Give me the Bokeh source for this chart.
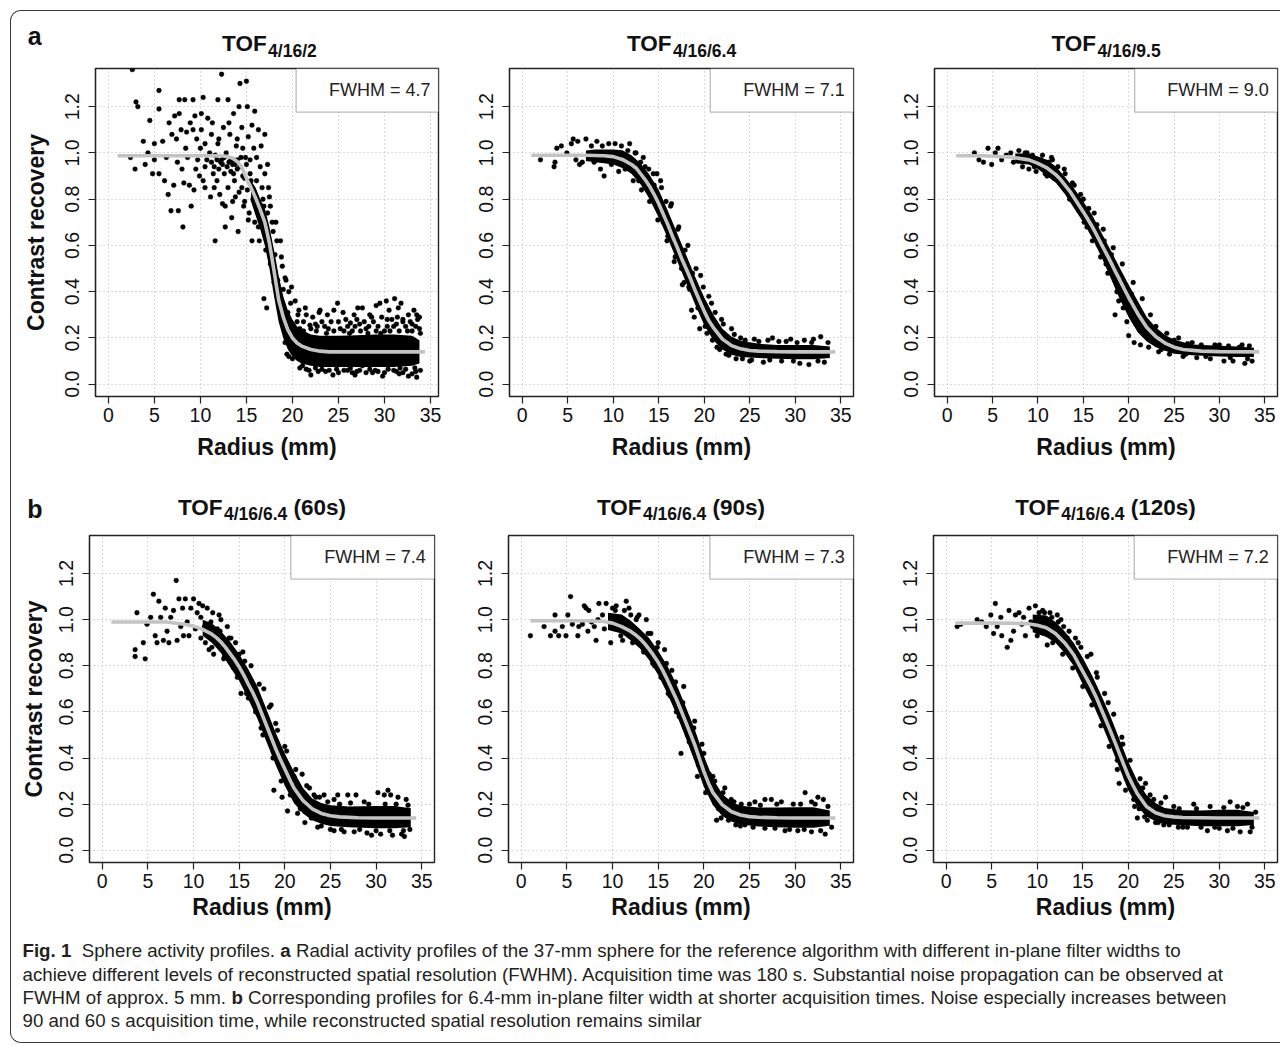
from bokeh.plotting import figure
from bokeh.models import Range1d, FixedTicker, NumeralTickFormatter, Label, BoxAnnotation
from bokeh.layouts import row, column
from bokeh.embed import file_html
from bokeh.resources import INLINE
from bokeh.core.properties import value

FONT = "Liberation Sans"

# ---------------- data ----------------
X_TICKS = [0, 5, 10, 15, 20, 25, 30, 35]
Y_TICKS = [0.0, 0.2, 0.4, 0.6, 0.8, 1.0, 1.2]
X_LO, X_HI = -1.4, 36.4
Y_LO, Y_HI = -0.053, 1.365

CURVE_X = [1, 4, 7, 9, 10, 11, 12, 12.5, 13, 13.5, 14, 14.5, 15, 15.5, 16, 16.5, 17, 17.5,
           18, 18.5, 19, 19.5, 20, 20.5, 21, 22, 23, 24, 25, 26, 28, 30, 34.4]

CURVE_TOF2 = [0.988, 0.988, 0.988, 0.988, 0.988, 0.988, 0.988, 0.987, 0.984, 0.977, 0.963, 0.937,
              0.89, 0.85, 0.805, 0.755, 0.70, 0.61, 0.49, 0.365, 0.29, 0.235, 0.20, 0.178, 0.165,
              0.15, 0.143, 0.14, 0.14, 0.14, 0.14, 0.14, 0.14]
CURVE_TOF64 = [0.99, 0.99, 0.99, 0.988, 0.984, 0.972, 0.95, 0.935, 0.91, 0.885, 0.855, 0.82,
               0.78, 0.735, 0.69, 0.64, 0.595, 0.545, 0.50, 0.455, 0.405, 0.36, 0.315, 0.275, 0.245,
               0.195, 0.167, 0.153, 0.146, 0.143, 0.141, 0.14, 0.14]
CURVE_TOF95 = [0.988, 0.988, 0.982, 0.97, 0.955, 0.935, 0.905, 0.885, 0.86, 0.835, 0.805, 0.775,
               0.745, 0.713, 0.68, 0.643, 0.605, 0.568, 0.53, 0.49, 0.452, 0.413, 0.375, 0.34, 0.305,
               0.245, 0.205, 0.178, 0.16, 0.15, 0.143, 0.141, 0.14]
CURVE_60S = [0.99, 0.99, 0.99, 0.98, 0.972, 0.958, 0.937, 0.922, 0.903, 0.88, 0.853, 0.826,
             0.795, 0.76, 0.72, 0.683, 0.64, 0.59, 0.54, 0.49, 0.44, 0.395, 0.352, 0.31, 0.27,
             0.215, 0.18, 0.16, 0.15, 0.145, 0.141, 0.14, 0.14]
CURVE_90S = [0.995, 0.995, 0.995, 0.992, 0.985, 0.97, 0.949, 0.935, 0.918, 0.897, 0.872, 0.845,
             0.815, 0.78, 0.74, 0.697, 0.655, 0.607, 0.558, 0.508, 0.458, 0.40, 0.342, 0.292, 0.25,
             0.198, 0.168, 0.153, 0.146, 0.143, 0.141, 0.14, 0.14]
CURVE_120S = [0.985, 0.985, 0.985, 0.982, 0.976, 0.965, 0.94, 0.92, 0.90, 0.875, 0.848, 0.812,
              0.776, 0.74, 0.703, 0.662, 0.615, 0.568, 0.521, 0.472, 0.422, 0.372, 0.323, 0.283, 0.245,
              0.19, 0.163, 0.15, 0.145, 0.142, 0.141, 0.14, 0.14]

# dense core of each point cloud (lower / upper envelope)
BAND_TOF2_X = [15.5, 16, 16.5, 17, 17.5, 18, 18.5, 19, 19.5, 20, 20.5, 21, 22, 23, 25, 27, 29, 31, 33, 33.8]
BAND_TOF2_LO = [0.79, 0.73, 0.67, 0.60, 0.50, 0.38, 0.27, 0.20, 0.15, 0.12, 0.10, 0.09, 0.08, 0.075, 0.075, 0.075, 0.075, 0.075, 0.08, 0.09]
BAND_TOF2_HI = [0.88, 0.85, 0.80, 0.76, 0.68, 0.58, 0.47, 0.38, 0.32, 0.28, 0.25, 0.235, 0.215, 0.21, 0.21, 0.212, 0.215, 0.215, 0.21, 0.19]

BAND_TOF64_X = [7, 8, 9, 10, 11, 12, 13, 14, 15, 16, 17, 18, 19, 20, 21, 22, 23, 24, 26, 28, 30, 32, 33.8]
BAND_TOF64_LO = [0.965, 0.96, 0.955, 0.95, 0.935, 0.91, 0.865, 0.80, 0.72, 0.63, 0.535, 0.44, 0.345, 0.255, 0.19, 0.15, 0.128, 0.118, 0.113, 0.11, 0.108, 0.108, 0.113]
BAND_TOF64_HI = [1.01, 1.015, 1.015, 1.015, 1.012, 0.99, 0.955, 0.905, 0.84, 0.75, 0.655, 0.56, 0.465, 0.375, 0.30, 0.24, 0.205, 0.188, 0.175, 0.17, 0.17, 0.17, 0.163]

BAND_TOF95_X = [7.5, 9, 10, 11, 12, 13, 14, 15, 16, 17, 18, 19, 20, 21, 22, 23, 24, 25, 27, 30, 32, 33.8]
BAND_TOF95_LO = [0.955, 0.95, 0.93, 0.90, 0.87, 0.82, 0.76, 0.70, 0.63, 0.55, 0.46, 0.37, 0.29, 0.225, 0.185, 0.16, 0.145, 0.132, 0.125, 0.12, 0.118, 0.118]
BAND_TOF95_HI = [0.998, 0.998, 0.985, 0.97, 0.94, 0.895, 0.845, 0.79, 0.73, 0.655, 0.58, 0.505, 0.43, 0.36, 0.29, 0.245, 0.213, 0.192, 0.172, 0.166, 0.163, 0.158]

BAND_60S_X = [11, 12, 13, 14, 15, 16, 17, 18, 19, 20, 21, 22, 23, 24, 25, 27, 30, 32, 33.8]
BAND_60S_LO = [0.93, 0.90, 0.855, 0.795, 0.735, 0.655, 0.57, 0.47, 0.37, 0.28, 0.205, 0.16, 0.13, 0.115, 0.105, 0.10, 0.096, 0.096, 0.10]
BAND_60S_HI = [1.0, 0.985, 0.95, 0.905, 0.85, 0.785, 0.71, 0.61, 0.51, 0.42, 0.34, 0.27, 0.225, 0.205, 0.195, 0.19, 0.192, 0.192, 0.182]

BAND_90S_X = [9.5, 11, 12, 13, 14, 15, 16, 17, 18, 19, 20, 21, 22, 23, 24, 26, 28, 30, 32, 33.8]
BAND_90S_LO = [0.955, 0.94, 0.91, 0.875, 0.825, 0.76, 0.68, 0.59, 0.49, 0.385, 0.275, 0.195, 0.15, 0.125, 0.112, 0.103, 0.1, 0.098, 0.098, 0.106]
BAND_90S_HI = [1.03, 1.022, 0.995, 0.96, 0.92, 0.865, 0.80, 0.72, 0.625, 0.525, 0.41, 0.31, 0.245, 0.21, 0.193, 0.185, 0.185, 0.187, 0.187, 0.172]

BAND_120S_X = [9.5, 11, 12, 13, 14, 15, 16, 17, 18, 19, 20, 21, 22, 23, 24, 26, 28, 30, 32, 33.8]
BAND_120S_LO = [0.945, 0.925, 0.90, 0.855, 0.80, 0.72, 0.645, 0.555, 0.46, 0.36, 0.26, 0.19, 0.147, 0.126, 0.113, 0.108, 0.104, 0.104, 0.104, 0.11]
BAND_120S_HI = [1.022, 1.018, 0.99, 0.95, 0.90, 0.835, 0.76, 0.675, 0.585, 0.485, 0.385, 0.30, 0.24, 0.205, 0.183, 0.174, 0.172, 0.176, 0.176, 0.166]

# individual (sparse / edge) points: (radius, contrast recovery)
PTS_TOF2 = [(2.6, 1.36), (3.0, 1.22), (3.2, 1.20), (2.4, 0.98), (2.9, 0.93), (4.5, 1.14), (5.5, 1.27), (5.5, 1.19),
    (4.3, 1.00), (4.8, 0.91), (5.0, 1.04), (5.0, 0.97), (5.5, 0.91), (5.9, 1.05), (6.1, 0.88), (6.5, 0.82),
    (6.6, 1.13), (6.8, 0.75), (7.2, 1.16), (7.4, 1.06), (7.6, 0.75), (7.7, 1.23), (7.7, 1.17), (7.9, 1.10),
    (8.0, 0.93), (8.1, 0.68), (8.3, 1.23), (8.2, 0.87), (8.5, 1.09), (8.6, 0.98), (8.8, 0.86), (9.0, 0.77),
    (9.2, 1.23), (9.2, 1.10), (9.4, 1.16), (9.6, 1.06), (9.7, 0.97), (9.9, 0.90), (10.1, 1.17), (10.1, 1.10),
    (10.3, 1.24), (10.5, 1.04), (10.5, 0.85), (10.5, 0.94), (10.8, 1.15), (11.0, 1.00), (11.1, 0.81), (11.2, 1.08),
    (11.4, 0.91), (11.6, 0.62), (11.6, 0.99), (11.8, 0.88), (11.9, 1.23), (11.9, 1.04), (12.1, 0.82), (12.3, 1.34),
    (12.3, 0.97), (12.5, 1.11), (12.6, 0.91), (12.7, 0.68), (12.7, 0.77), (12.8, 1.00), (13.0, 1.23), (13.0, 0.85),
    (13.2, 1.08), (13.3, 0.97), (13.4, 0.72), (13.6, 1.17), (13.6, 0.91), (13.8, 0.81), (13.9, 1.03), (14.1, 0.66),
    (14.2, 1.20), (14.3, 1.30), (14.3, 0.94), (14.5, 1.11), (14.5, 0.85), (14.7, 0.77), (14.9, 0.98), (15.0, 1.31),
    (15.1, 1.20), (15.2, 1.07), (15.2, 0.71), (15.4, 0.91), (15.6, 0.62), (15.8, 1.02), (15.9, 1.18), (16.0, 0.81),
    (16.3, 1.10), (16.3, 0.68), (16.5, 0.94), (16.7, 0.85), (16.9, 0.77), (17.0, 1.08), (17.0, 0.91), (17.2, 0.66),
    (17.4, 0.85), (17.6, 0.77), (17.9, 0.66), (18.1, 0.56), (18.9, 0.51), (19.2, 0.46), (19.6, 0.40), (16.9, 0.37),
    (17.2, 0.33), (20.3, 0.36), (20.7, 0.32), (21.2, 0.27), (19.6, 0.12), (20.0, 0.11), (22.2, 0.29), (22.9, 0.31),
    (23.8, 0.30), (24.5, 0.32), (24.9, 0.35), (25.8, 0.28), (26.7, 0.30), (27.1, 0.33), (27.6, 0.33), (27.8, 0.27),
    (28.4, 0.30), (29.1, 0.34), (29.5, 0.35), (30.2, 0.36), (30.5, 0.32), (31.1, 0.37), (31.5, 0.33), (31.8, 0.35),
    (32.0, 0.28), (32.6, 0.30), (33.5, 0.30), (33.6, 0.28), (33.5, 0.03), (33.3, 0.07), (28.7, 0.05), (26.5, 0.05),
    (23.2, 0.065), (21.1, 0.08), (11.2, 0.96), (11.5, 0.94), (11.8, 0.97), (12.0, 0.93), (12.2, 0.96), (12.4, 0.95),
    (12.6, 0.98), (12.9, 0.94), (13.1, 0.96), (13.3, 0.92), (13.6, 0.97), (13.8, 0.95), (14.0, 0.97), (13.5, 0.95),
    (13.7, 0.88), (14.0, 0.93), (14.2, 0.83), (14.4, 0.98), (14.6, 0.90), (14.8, 0.79), (15.0, 0.95), (15.1, 0.84),
    (15.3, 0.74), (15.5, 0.88), (15.7, 0.80), (15.9, 0.70), (16.1, 0.88), (16.2, 0.76), (16.4, 0.62), (16.6, 0.72),
    (16.8, 0.80), (17.1, 0.58), (17.3, 0.74), (17.6, 0.52), (17.8, 0.70), (18.0, 0.44), (18.3, 0.62), (18.6, 0.36),
    (18.8, 0.55), (19.0, 0.28), (19.3, 0.45), (19.6, 0.22), (19.8, 0.35), (20.2, 0.17), (20.6, 0.30), (21.0, 0.12),
    (21.5, 0.30), (22.5, 0.26), (23.5, 0.25), (24.2, 0.27), (25.2, 0.24), (26.0, 0.25), (26.5, 0.23), (27.3, 0.26),
    (28.0, 0.24), (28.8, 0.27), (29.3, 0.25), (30.0, 0.23), (30.8, 0.28), (31.3, 0.26), (32.3, 0.25), (33.0, 0.26),
    (33.8, 0.24), (21.8, 0.06), (22.8, 0.055), (24.0, 0.06), (25.0, 0.05), (26.0, 0.06), (27.0, 0.055), (28.0, 0.05),
    (29.0, 0.06), (30.0, 0.05), (31.0, 0.06), (32.0, 0.05), (33.0, 0.045), (33.9, 0.06), (19.4, 0.13),
    (3.8, 1.05), (4.0, 0.95), (6.3, 0.98), (6.9, 1.08), (7.1, 0.86), (7.5, 0.96), (8.4, 1.02), (8.9, 1.13),
    (9.3, 0.84), (9.5, 0.93), (10.0, 1.02), (10.3, 0.88), (10.7, 0.97), (11.3, 1.13), (11.5, 0.85), (12.0, 1.06),
    (12.4, 0.78), (13.1, 1.13), (13.5, 0.79), (14.0, 1.06), (14.6, 1.02), (14.8, 0.89), (15.4, 0.97), (15.6, 1.12),
    (16.1, 0.98), (16.6, 1.03), (17.3, 0.95), (17.5, 0.81), (18.2, 0.70), (18.4, 0.45), (18.7, 0.62), (19.0, 0.41),
    (19.2, 0.18), (19.5, 0.31), (19.9, 0.42), (20.4, 0.14), (20.8, 0.24), (21.4, 0.33), (21.9, 0.255), (22.3, 0.095),
    (22.7, 0.25), (23.0, 0.32), (23.9, 0.24), (24.6, 0.085), (25.5, 0.31), (26.3, 0.265), (27.0, 0.28), (27.6, 0.08),
    (28.3, 0.25), (29.7, 0.29), (30.3, 0.25), (31.4, 0.29), (31.7, 0.07), (32.8, 0.27), (33.2, 0.32), (33.8, 0.29),
    (22.0, 0.04), (24.4, 0.04), (26.8, 0.04), (29.8, 0.035), (31.6, 0.045), (32.6, 0.035),
    (20.5, 0.27), (21.2, 0.23), (22.0, 0.24), (22.6, 0.23), (23.2, 0.27), (23.7, 0.22), (24.5, 0.23), (25.0, 0.27),
    (25.6, 0.23), (26.2, 0.22), (26.8, 0.25), (27.4, 0.23), (28.2, 0.22), (28.6, 0.29), (29.1, 0.23), (29.6, 0.22),
    (30.3, 0.28), (30.6, 0.23), (31.0, 0.25), (31.6, 0.23), (32.0, 0.27), (32.5, 0.23), (33.0, 0.23), (33.4, 0.25),
    (33.9, 0.22), (20.8, 0.07), (21.5, 0.065), (22.5, 0.07), (23.6, 0.055), (24.8, 0.065), (25.6, 0.06), (26.3, 0.07),
    (27.3, 0.06), (28.4, 0.065), (29.3, 0.055), (30.4, 0.065), (31.3, 0.055), (32.3, 0.065), (33.4, 0.055)]

PTS_TOF64 = [(2.0, 0.97), (3.5, 0.94), (3.6, 0.96), (3.8, 1.02), (4.3, 1.03), (4.9, 1.00), (5.4, 1.04), (5.6, 1.06),
    (5.9, 0.97), (6.1, 1.05), (6.3, 0.95), (6.6, 0.96), (7.0, 1.06), (7.3, 0.99), (7.6, 1.03), (7.9, 0.96),
    (8.2, 1.05), (8.4, 0.98), (8.6, 0.93), (8.8, 1.03), (9.0, 0.90), (9.2, 0.97), (9.5, 1.04), (9.8, 0.95),
    (10.2, 1.04), (10.4, 0.97), (10.6, 0.92), (10.9, 1.03), (11.1, 0.96), (11.3, 0.93), (11.6, 1.01), (11.8, 1.04),
    (12.0, 0.95), (12.2, 0.88), (12.4, 1.00), (12.8, 0.88), (13.0, 0.96), (13.3, 0.98), (13.6, 0.86), (13.9, 0.93),
    (14.2, 0.82), (14.5, 0.86), (14.8, 0.91), (15.2, 0.88), (15.5, 0.70), (15.8, 0.79), (16.0, 0.64), (16.4, 0.78),
    (16.6, 0.61), (16.8, 0.55), (17.2, 0.68), (17.5, 0.50), (17.8, 0.44), (18.2, 0.60), (18.4, 0.41), (18.6, 0.32),
    (18.9, 0.29), (19.1, 0.50), (19.5, 0.24), (19.9, 0.42), (20.3, 0.22), (20.8, 0.35), (21.4, 0.16), (21.9, 0.28),
    (22.4, 0.13), (23.0, 0.24), (23.5, 0.11), (24.0, 0.20), (24.5, 0.19), (25.0, 0.10), (25.5, 0.195), (26.5, 0.095),
    (27.0, 0.19), (27.5, 0.20), (28.5, 0.10), (29.0, 0.185), (29.5, 0.195), (30.5, 0.09), (31.0, 0.19), (31.5, 0.085),
    (32.0, 0.195), (32.8, 0.205), (33.2, 0.095), (33.6, 0.18),
    (12.5, 1.0), (13.1, 0.84), (13.5, 0.94), (14.0, 0.79), (14.4, 0.91), (14.9, 0.71), (15.3, 0.85), (15.9, 0.62),
    (16.3, 0.77), (16.7, 0.53), (17.1, 0.67), (17.6, 0.43), (17.9, 0.58), (18.3, 0.42), (18.7, 0.48), (19.3, 0.33),
    (19.6, 0.47), (20.1, 0.25), (20.5, 0.38), (20.9, 0.19), (21.2, 0.31), (21.7, 0.15), (22.1, 0.26), (22.7, 0.125),
    (23.3, 0.215), (24.2, 0.11), (25.2, 0.105), (26.0, 0.185), (27.2, 0.105), (28.2, 0.185), (29.8, 0.10), (30.2, 0.18),
    (31.8, 0.18), (32.5, 0.10), (33.4, 0.13)]

PTS_TOF95 = [(3.0, 1.00), (3.5, 0.97), (4.0, 0.96), (4.5, 1.02), (4.9, 0.95), (5.3, 1.00), (5.6, 1.02), (6.0, 0.97),
    (6.5, 0.99), (7.0, 1.00), (7.3, 0.96), (7.9, 1.01), (8.3, 0.94), (8.6, 1.00), (9.0, 0.93), (9.4, 0.99),
    (9.8, 0.92), (10.3, 0.97), (10.8, 0.91), (11.2, 0.96), (11.5, 0.98), (11.8, 0.89), (12.2, 0.94), (12.6, 0.86),
    (13.0, 0.91), (13.4, 0.82), (13.8, 0.87), (14.3, 0.77), (14.7, 0.82), (15.1, 0.70), (15.6, 0.76), (16.0, 0.62),
    (16.5, 0.69), (16.9, 0.55), (17.3, 0.62), (17.7, 0.48), (18.1, 0.56), (18.5, 0.30), (18.7, 0.40), (19.0, 0.47),
    (19.4, 0.33), (19.8, 0.27), (20.0, 0.21), (20.3, 0.39), (20.6, 0.18), (21.0, 0.30), (21.3, 0.17), (21.8, 0.25),
    (22.2, 0.16), (22.7, 0.22), (23.3, 0.14), (23.8, 0.20), (24.5, 0.13), (25.0, 0.19), (26.0, 0.12), (26.5, 0.175),
    (27.5, 0.115), (28.0, 0.17), (29.0, 0.11), (29.5, 0.17), (30.5, 0.10), (31.0, 0.165), (31.5, 0.10), (32.2, 0.16),
    (32.8, 0.09), (33.3, 0.165), (33.6, 0.10),
    (8.0, 0.97), (8.8, 1.0), (9.6, 0.94), (10.5, 0.99), (11.0, 0.90), (11.6, 0.97), (12.4, 0.87), (12.9, 0.93),
    (13.5, 0.80), (14.0, 0.86), (14.5, 0.75), (15.0, 0.80), (15.4, 0.68), (16.2, 0.74), (16.7, 0.60), (17.2, 0.67),
    (17.5, 0.52), (18.3, 0.59), (18.9, 0.36), (19.3, 0.52), (19.6, 0.42), (20.5, 0.44), (20.8, 0.26), (21.5, 0.37),
    (21.6, 0.22), (22.4, 0.30), (23.0, 0.25), (23.6, 0.15), (24.2, 0.22), (25.5, 0.20), (26.3, 0.13), (27.0, 0.18),
    (28.5, 0.12), (30.0, 0.17), (31.2, 0.115), (32.5, 0.17), (33.1, 0.11)]

PTS_60S = [(3.6, 0.87), (3.6, 0.84), (3.8, 1.03), (4.5, 0.90), (4.7, 0.83), (4.9, 0.98), (5.3, 1.01), (5.6, 1.11),
    (5.8, 0.93), (6.0, 0.90), (6.2, 1.08), (6.4, 1.01), (6.7, 0.91), (6.9, 1.05), (7.1, 0.95), (7.3, 0.90),
    (7.5, 1.01), (7.8, 1.04), (8.1, 1.17), (8.2, 0.91), (8.4, 1.09), (8.6, 0.97), (8.8, 1.05), (8.9, 0.93),
    (9.1, 1.09), (9.3, 0.99), (9.5, 0.93), (9.7, 1.05), (10.0, 1.09), (10.2, 0.96), (10.4, 1.03), (10.6, 1.07),
    (10.8, 1.01), (10.8, 0.92), (11.0, 1.06), (11.3, 0.90), (11.5, 1.05), (11.7, 0.87), (11.9, 0.99), (12.1, 1.03),
    (12.2, 0.85), (12.4, 0.93), (12.6, 0.96), (12.8, 1.02), (13.0, 1.00), (13.3, 0.83), (13.5, 0.88), (13.7, 0.97),
    (13.9, 0.92), (14.4, 0.79), (14.6, 0.90), (15.0, 0.85), (15.2, 0.68), (15.6, 0.82), (16.0, 0.66), (16.6, 0.69),
    (17.0, 0.62), (17.4, 0.53), (17.7, 0.70), (18.1, 0.49), (18.5, 0.63), (18.8, 0.26), (19.0, 0.55), (19.4, 0.39),
    (19.7, 0.23), (20.0, 0.45), (20.3, 0.17), (20.7, 0.34), (21.0, 0.32), (21.4, 0.16), (21.9, 0.33), (22.2, 0.12),
    (22.7, 0.27), (23.2, 0.24), (23.6, 0.10), (23.8, 0.23), (24.3, 0.24), (25.0, 0.09), (25.4, 0.22), (25.4, 0.085),
    (25.8, 0.24), (26.5, 0.08), (26.9, 0.24), (27.6, 0.08), (27.8, 0.24), (28.7, 0.21), (29.0, 0.075), (29.5, 0.065),
    (30.2, 0.25), (30.5, 0.07), (30.9, 0.24), (31.3, 0.26), (31.6, 0.24), (31.8, 0.065), (32.4, 0.23), (32.8, 0.07),
    (33.1, 0.06), (33.3, 0.22), (33.7, 0.09),
    (11.2, 0.97), (12.0, 0.88), (12.9, 0.95), (13.4, 0.84), (14.1, 0.92), (14.8, 0.75), (15.4, 0.86), (15.8, 0.68),
    (16.3, 0.80), (16.8, 0.60), (17.2, 0.72), (17.6, 0.50), (18.3, 0.62), (18.7, 0.40), (19.2, 0.52), (19.6, 0.30),
    (20.2, 0.43), (20.6, 0.24), (21.2, 0.35), (21.7, 0.18), (22.4, 0.28), (22.9, 0.14), (23.4, 0.23), (24.0, 0.105),
    (24.7, 0.21), (26.0, 0.20), (26.2, 0.09), (27.2, 0.205), (28.2, 0.09), (29.2, 0.20), (30.0, 0.085), (31.0, 0.20),
    (31.5, 0.085), (32.2, 0.20), (33.0, 0.085), (33.5, 0.195)]

PTS_90S = [(1.0, 0.93), (2.5, 0.97), (3.2, 0.93), (3.7, 1.02), (3.7, 0.95), (4.1, 0.93), (4.5, 0.97), (4.9, 0.93),
    (5.1, 1.02), (5.4, 1.10), (5.6, 0.98), (6.2, 0.93), (6.3, 0.97), (6.7, 0.98), (6.9, 1.06), (7.1, 1.05),
    (7.3, 0.95), (7.4, 1.04), (7.7, 0.99), (8.0, 0.97), (8.2, 0.91), (8.4, 1.00), (8.5, 1.07), (8.9, 1.02),
    (9.1, 0.96), (9.3, 1.07), (9.8, 0.90), (10.0, 1.05), (10.4, 1.06), (10.7, 0.98), (11.1, 0.91), (11.5, 1.08),
    (11.8, 1.05), (12.0, 1.02), (12.4, 0.91), (12.7, 1.01), (12.9, 1.02), (13.2, 0.93), (13.7, 1.00), (14.2, 0.94),
    (14.6, 0.80), (15.0, 0.90), (15.4, 0.75), (15.7, 0.87), (16.1, 0.68), (16.5, 0.78), (17.0, 0.60), (17.5, 0.42),
    (17.8, 0.71), (18.2, 0.50), (18.6, 0.49), (19.0, 0.56), (19.3, 0.32), (19.8, 0.46), (20.2, 0.25), (20.6, 0.33),
    (21.2, 0.30), (21.4, 0.13), (21.9, 0.14), (21.9, 0.23), (22.3, 0.27), (23.0, 0.22), (23.5, 0.11), (24.1, 0.20),
    (24.5, 0.11), (25.6, 0.21), (26.7, 0.22), (26.7, 0.095), (27.4, 0.22), (28.5, 0.21), (28.9, 0.085), (29.8, 0.20),
    (30.3, 0.085), (31.1, 0.25), (31.8, 0.21), (31.8, 0.08), (32.5, 0.23), (33.1, 0.22), (33.3, 0.07), (34.0, 0.10),
    (10.3, 1.04), (10.9, 0.93), (11.3, 1.04), (12.2, 0.90), (12.6, 1.00), (13.4, 0.86), (13.9, 0.94), (14.4, 0.81),
    (14.9, 0.88), (15.3, 0.75), (15.9, 0.81), (16.3, 0.67), (16.9, 0.73), (17.3, 0.58), (17.7, 0.64), (18.4, 0.47),
    (18.9, 0.53), (19.4, 0.37), (20.0, 0.42), (20.4, 0.26), (21.0, 0.32), (21.6, 0.18), (22.1, 0.25), (22.7, 0.13),
    (23.3, 0.21), (24.0, 0.105), (25.0, 0.20), (25.4, 0.10), (26.2, 0.195), (27.8, 0.095), (28.0, 0.20), (29.4, 0.09),
    (30.6, 0.20), (31.0, 0.09), (32.2, 0.20), (32.8, 0.085), (33.6, 0.19)]

PTS_120S = [(1.2, 0.97), (1.6, 0.98), (3.4, 1.00), (3.9, 0.99), (4.4, 0.97), (4.9, 1.02), (5.2, 0.94), (5.4, 1.07),
    (5.6, 0.97), (6.0, 1.01), (6.1, 0.93), (6.7, 0.88), (6.9, 1.04), (7.1, 0.91), (7.4, 0.95), (7.6, 1.02),
    (8.0, 1.03), (8.3, 0.98), (8.5, 1.01), (8.7, 0.93), (9.1, 1.05), (9.3, 0.99), (9.5, 0.97), (9.8, 1.06),
    (10.2, 1.03), (10.6, 1.04), (10.9, 0.96), (11.1, 0.89), (11.4, 1.03), (11.6, 1.01), (12.2, 1.02), (12.6, 1.00),
    (12.9, 0.97), (13.3, 0.92), (13.7, 0.87), (14.2, 0.92), (14.8, 0.88), (15.2, 0.74), (15.9, 0.85), (16.2, 0.67),
    (16.6, 0.75), (16.9, 0.65), (17.4, 0.57), (17.8, 0.64), (18.3, 0.47), (18.8, 0.39), (19.0, 0.29), (19.4, 0.46),
    (19.8, 0.31), (20.3, 0.29), (20.6, 0.22), (21.0, 0.14), (21.2, 0.18), (21.6, 0.27), (21.9, 0.29), (22.1, 0.13),
    (22.8, 0.22), (23.3, 0.12), (23.9, 0.11), (24.1, 0.23), (25.0, 0.19), (25.5, 0.10), (26.5, 0.10), (27.2, 0.20),
    (28.0, 0.10), (28.7, 0.085), (29.0, 0.19), (30.0, 0.095), (30.9, 0.085), (31.2, 0.21), (32.0, 0.19), (32.3, 0.08),
    (33.1, 0.20), (33.4, 0.08), (34.0, 0.165),
    (10.0, 0.93), (10.8, 1.03), (11.7, 0.90), (12.3, 0.99), (12.8, 0.85), (13.5, 0.95), (13.9, 0.79), (14.5, 0.90),
    (15.0, 0.71), (15.5, 0.84), (16.0, 0.63), (16.5, 0.77), (17.0, 0.54), (17.4, 0.68), (17.9, 0.45), (18.4, 0.59),
    (18.8, 0.35), (19.3, 0.49), (19.7, 0.26), (20.2, 0.39), (20.7, 0.19), (21.3, 0.31), (21.8, 0.145), (22.4, 0.24),
    (23.0, 0.12), (23.6, 0.205), (24.5, 0.11), (25.6, 0.18), (26.0, 0.10), (27.5, 0.18), (29.5, 0.10), (30.5, 0.185),
    (31.5, 0.095), (32.6, 0.185), (33.6, 0.10)]

TITLE_SUBS = ["4/16/2", "4/16/6.4", "4/16/9.5", "4/16/6.4", "4/16/6.4", "4/16/6.4"]
TITLE_SUFFIX = ["", "", "", "(60s)", "(90s)", "(120s)"]
FWHM = ["4.7", "7.1", "9.0", "7.4", "7.3", "7.2"]
CURVES = [CURVE_TOF2, CURVE_TOF64, CURVE_TOF95, CURVE_60S, CURVE_90S, CURVE_120S]
BANDS = [(BAND_TOF2_X, BAND_TOF2_LO, BAND_TOF2_HI), (BAND_TOF64_X, BAND_TOF64_LO, BAND_TOF64_HI),
         (BAND_TOF95_X, BAND_TOF95_LO, BAND_TOF95_HI), (BAND_60S_X, BAND_60S_LO, BAND_60S_HI),
         (BAND_90S_X, BAND_90S_LO, BAND_90S_HI), (BAND_120S_X, BAND_120S_LO, BAND_120S_HI)]
POINTS = [PTS_TOF2, PTS_TOF64, PTS_TOF95, PTS_60S, PTS_90S, PTS_120S]

CAPTION = [
    [("Fig. 1", True), ("  Sphere activity profiles. ", False), ("a", True),
     (" Radial activity profiles of the 37-mm sphere for the reference algorithm with different in-plane filter widths to", False)],
    [("achieve different levels of reconstructed spatial resolution (FWHM). Acquisition time was 180 s. Substantial noise propagation can be observed at", False)],
    [("FWHM of approx. 5 mm. ", False), ("b", True),
     (" Corresponding profiles for 6.4-mm in-plane filter width at shorter acquisition times. Noise especially increases between", False)],
    [("90 and 60 s acquisition time, while reconstructed spatial resolution remains similar", False)],
]

# ---------------- font metrics (Arial-compatible Liberation Sans) ----------------
REG = {' ': 278, '.': 278, ',': 278, '-': 333, '(': 333, ')': 333, '/': 278, '=': 584}
BOLD = dict(REG)
for c in "0123456789":
    REG[c] = 556
    BOLD[c] = 556
REG.update(dict(zip("abcdefghijklmnopqrstuvwxyz",
    [556, 556, 500, 556, 556, 278, 556, 556, 222, 222, 500, 222, 833, 556, 556, 556, 556, 333, 500, 278, 556, 500, 722, 500, 500, 500])))
REG.update(dict(zip("ABCDEFGHIJKLMNOPQRSTUVWXYZ",
    [667, 667, 722, 722, 667, 611, 778, 722, 278, 500, 667, 556, 833, 722, 778, 667, 778, 722, 667, 611, 722, 667, 944, 667, 667, 611])))
BOLD.update(dict(zip("abcdefghijklmnopqrstuvwxyz",
    [556, 611, 556, 611, 556, 333, 611, 611, 278, 278, 556, 278, 889, 611, 611, 611, 611, 389, 556, 333, 611, 556, 778, 556, 556, 500])))
BOLD.update(dict(zip("ABCDEFGHIJKLMNOPQRSTUVWXYZ",
    [722, 722, 722, 722, 667, 611, 778, 722, 278, 556, 722, 611, 833, 722, 778, 667, 778, 722, 667, 611, 722, 667, 944, 667, 667, 611])))


def em(s, bold):
    t = BOLD if bold else REG
    return sum(t.get(c, 556) for c in s) / 1000.0


TOF_SIZE, SUB_SIZE = 22.5, 17.5
INK = "#111111"
CONTENT_X0 = 11          # page x of the content's left edge (inside the border)
CONTENT_W = 1269


def make_panel(i, W, H, mbl, mbr, mbt, mbb, xend, cfg):
    p = figure(width=W, height=H, x_range=Range1d(X_LO, xend), y_range=Range1d(Y_LO, Y_HI),
               toolbar_location=None, output_backend="svg", title=None,
               min_border_left=mbl, min_border_right=mbr, min_border_top=mbt, min_border_bottom=mbb,
               background_fill_color="white", border_fill_color="white")
    p.outline_line_color = "#222222"
    p.outline_line_width = 1.4
    p.xaxis.ticker = FixedTicker(ticks=X_TICKS)
    p.yaxis.ticker = FixedTicker(ticks=Y_TICKS)
    p.yaxis.formatter = NumeralTickFormatter(format="0.0")
    for ax in list(p.xaxis) + list(p.yaxis):
        ax.axis_line_color = "#222222"
        ax.axis_line_width = 1.2
        ax.major_tick_line_color = "#222222"
        ax.major_tick_line_width = 1.2
        ax.minor_tick_line_color = None
        ax.major_tick_out = 7
        ax.major_tick_in = 0
        ax.major_label_text_font = FONT
        ax.major_label_text_font_size = "19.5px"
        ax.major_label_text_color = INK
        ax.axis_label_text_font = FONT
        ax.axis_label_text_font_size = "23px"
        ax.axis_label_text_font_style = "bold"
        ax.axis_label_text_color = INK
    p.xaxis.major_label_standoff = 4
    p.yaxis.major_label_standoff = 9
    p.yaxis.major_label_orientation = "vertical"
    p.xaxis.axis_label = "Radius (mm)"
    p.xaxis.axis_label_standoff = cfg["xl_standoff"]
    if i % 3 == 0:
        p.yaxis.axis_label = "Contrast recovery"
        p.yaxis.axis_label_standoff = cfg["yl_standoff"]
    for g in (p.xgrid, p.ygrid):
        g.grid_line_color = "#b4b4b4"
        g.grid_line_dash = "1 3"
        g.grid_line_width = 1

    bx, blo, bhi = BANDS[i]
    p.varea(x=bx, y1=blo, y2=bhi, fill_color="black")
    xs = [a for a, b in POINTS[i]]
    ys = [b for a, b in POINTS[i]]
    p.scatter(x=xs, y=ys, marker="circle", size=4.9, fill_color="black", line_color="black", line_width=0.3)
    p.line(x=CURVE_X, y=CURVES[i], line_color="#c3c3c3", line_width=3.6)

    box_left = 20.4 if i == 0 else 20.66
    text_x = 35.0 if i == 0 else 35.45
    p.add_layout(BoxAnnotation(left=box_left, bottom=1.176, fill_color="white", fill_alpha=1.0,
                               line_color="#222222", line_width=1.3))
    p.add_layout(Label(x=text_x, y=1.27, text="FWHM = " + FWHM[i], text_align="right", text_baseline="middle",
                       text_font=FONT, text_font_size="18px", text_color="#222222"))
    return p


def make_header(r, cfg):
    h = cfg["head_h"]
    hf = figure(width=CONTENT_W, height=h, x_range=Range1d(0, CONTENT_W), y_range=Range1d(h, 0),
                toolbar_location=None, output_backend="svg", title=None, x_axis_type=None, y_axis_type=None,
                min_border=0, outline_line_color=None, background_fill_color="white", border_fill_color="white")
    hf.xgrid.visible = False
    hf.ygrid.visible = False
    big_x, big_t, sub_x, sub_t = [], [], [], []
    for k, (frame_left, frame_w, xend) in enumerate(cfg["frames"]):
        i = 3 * r + k
        scale = frame_w / (xend - X_LO)
        center = frame_left + ((X_LO + X_HI) / 2.0 - X_LO) * scale - CONTENT_X0
        sub = TITLE_SUBS[i]
        suf = TITLE_SUFFIX[i]
        w_tof = em("TOF", True) * TOF_SIZE
        w_sub = em(sub, True) * SUB_SIZE
        w_suf = em(" " + suf, True) * TOF_SIZE if suf else 0.0
        x0 = center - (w_tof + 1 + w_sub + w_suf) / 2.0
        big_x.append(x0); big_t.append("TOF")
        sub_x.append(x0 + w_tof + 1); sub_t.append(sub)
        if suf:
            big_x.append(x0 + w_tof + 1 + w_sub + em(" ", True) * TOF_SIZE); big_t.append(suf)
    hf.text(x=big_x, y=[cfg["tof_base"]] * len(big_x), text=big_t, text_font=value(FONT),
            text_font_size=value(f"{TOF_SIZE}px"), text_font_style="bold", text_color=INK,
            text_baseline="alphabetic", text_align="left")
    hf.text(x=sub_x, y=[cfg["sub_base"]] * len(sub_x), text=sub_t, text_font=value(FONT),
            text_font_size=value(f"{SUB_SIZE}px"), text_font_style="bold", text_color=INK,
            text_baseline="alphabetic", text_align="left")
    hf.text(x=[cfg["let_x"]], y=[cfg["let_base"]], text=[cfg["letter"]], text_font=value(FONT),
            text_font_size=value("25px"), text_font_style="bold", text_color=INK,
            text_baseline="alphabetic", text_align="left")
    return hf


# page geometry: figure widths 447 / 422 / 400 starting at x = 11, 458, 880
ROW_A = dict(H=404, mbt=2, mbb=74, xl_standoff=9, yl_standoff=14, letter="a",
             head_h=55, tof_base=32.3, sub_base=39.0, let_x=16.3, let_base=24.2,
             geoms=[(447, 84, 20, 35.87), (422, 51, 27, 36.4), (400, 54, 3, 36.4)],
             frames=[(95, 343, 35.87), (509, 344, 36.4), (934, 343, 36.4)])
ROW_B = dict(H=394, mbt=4, mbb=63, xl_standoff=3, yl_standoff=10, letter="b",
             head_h=61, tof_base=37.0, sub_base=43.7, let_x=15.7, let_base=38.5,
             geoms=[(447, 78, 24, 36.4), (422, 50, 27, 36.4), (400, 53, 3, 36.4)],
             frames=[(89, 345, 36.4), (508, 345, 36.4), (933, 344, 36.4)])

blocks = []
for r, cfg in enumerate((ROW_A, ROW_B)):
    figs = []
    for k, (W, mbl, mbr, xend) in enumerate(cfg["geoms"]):
        figs.append(make_panel(3 * r + k, W, cfg["H"], mbl, mbr, cfg["mbt"], cfg["mbb"], xend, cfg))
    blocks.append(make_header(r, cfg))
    blocks.append(row(*figs))

# ---------------- caption ----------------
CAP_W, CAP_H = CONTENT_W, 117
cap = figure(width=CAP_W, height=CAP_H, x_range=Range1d(0, CAP_W), y_range=Range1d(CAP_H, 0),
             toolbar_location=None, output_backend="svg", title=None, x_axis_type=None, y_axis_type=None,
             min_border=0, outline_line_color=None, background_fill_color="white", border_fill_color="white")
cap.xgrid.visible = False
cap.ygrid.visible = False
targets = [1199, 1203, 1243]
line_em = [sum(em(t, b) for t, b in line) for line in CAPTION]
cs = min(targets[k] / line_em[k] for k in range(3))
line_y = [25, 49, 72, 95]
bx_, by_, bt_, nx_, ny_, nt_ = [], [], [], [], [], []
for k, line in enumerate(CAPTION):
    x = 11.0
    for t, b in line:
        lead = len(t) - len(t.lstrip(" "))
        xs0 = x + em(t[:lead], b) * cs
        if b:
            bx_.append(xs0); by_.append(line_y[k]); bt_.append(t.strip())
        else:
            nx_.append(xs0); ny_.append(line_y[k]); nt_.append(t.strip())
        x += em(t, b) * cs
cap.text(x=nx_, y=ny_, text=nt_, text_font=value(FONT), text_font_size=value(f"{cs:.2f}px"),
         text_baseline="middle", text_align="left", text_color="#231f20")
cap.text(x=bx_, y=by_, text=bt_, text_font=value(FONT), text_font_size=value(f"{cs:.2f}px"),
         text_font_style="bold", text_baseline="middle", text_align="left", text_color="#231f20")

root = column(*blocks, cap,
              styles={"margin": "10px 0 0 10px", "border": "1px solid #3a3a3a", "border-right": "none",
                      "border-radius": "11px 0 0 11px", "box-sizing": "content-box",
                      "background-color": "white", "overflow": "hidden"})

open("out.html", "w").write(file_html(root, INLINE))
